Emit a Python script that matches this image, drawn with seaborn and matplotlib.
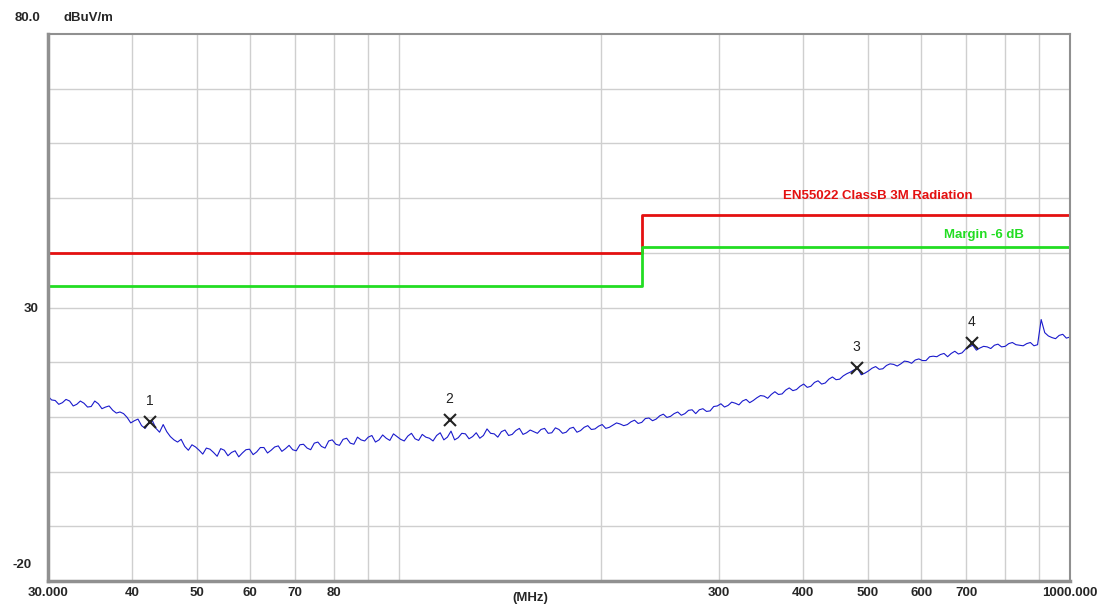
import matplotlib
matplotlib.use("Agg")
import matplotlib.pyplot as plt
import seaborn as sns
import numpy as np
import pandas as pd

# ---------------- data ----------------
# sweep points (main grid)
freq_mhz = [30.0, 30.75, 31.52, 32.31, 33.11, 33.94, 34.79, 35.66, 36.55, 37.47,
            38.40, 39.36, 40.35, 41.36, 42.39, 43.45, 44.54, 45.65, 46.79, 47.96,
            49.16, 50.39, 51.65, 52.94, 54.26, 55.62, 57.01, 58.44, 59.90, 61.39,
            62.93, 64.50, 66.11, 67.77, 69.46, 71.20, 72.98, 74.80, 76.67, 78.59,
            80.55, 82.57, 84.63, 86.75, 88.92, 91.14, 93.42, 95.75, 98.15, 100.60,
            103.12, 105.69, 108.34, 111.04, 113.82, 116.67, 119.58, 122.57, 125.64, 128.78,
            132.00, 135.30, 138.68, 142.15, 145.70, 149.34, 153.08, 156.90, 160.83, 164.85,
            168.97, 173.19, 177.52, 181.96, 186.51, 191.17, 195.95, 200.85, 205.87, 211.02,
            216.29, 221.70, 227.24, 232.92, 238.75, 244.71, 250.83, 257.10, 263.53, 270.12,
            276.87, 283.79, 290.89, 298.16, 305.61, 313.25, 321.09, 329.11, 337.34, 345.77,
            354.42, 363.28, 372.36, 381.67, 391.21, 400.99, 411.02, 421.29, 431.82, 442.62,
            453.68, 465.03, 476.65, 488.57, 500.78, 513.30, 526.14, 539.29, 552.77, 566.59,
            580.76, 595.28, 610.16, 625.41, 641.05, 657.07, 673.50, 690.34, 707.59, 725.28,
            743.42, 762.00, 781.05, 800.58, 820.59, 841.11, 862.13, 883.69, 905.78, 928.42,
            951.63, 975.42, 1000.0]
level_dbuv = [13.8, 13.0, 12.6, 12.9, 12.3, 12.5, 11.9, 12.4, 11.8, 11.2,
              10.9, 9.9, 9.3, 8.4, 8.9, 7.9, 8.6, 6.4, 5.4, 4.6,
              4.9, 3.9, 4.3, 3.5, 4.2, 2.9, 3.8, 3.4, 4.1, 3.6,
              4.4, 3.9, 4.7, 4.2, 4.0, 4.9, 4.3, 5.2, 4.6, 5.6,
              5.0, 5.9, 5.2, 6.3, 5.6, 6.6, 5.8, 6.1, 6.9, 5.9,
              6.5, 6.0, 6.8, 6.1, 6.6, 5.8, 7.4, 6.2, 6.9, 6.4,
              6.1, 7.8, 6.9, 7.3, 6.6, 7.5, 6.8, 7.6, 7.0, 7.9,
              7.1, 7.7, 7.2, 8.1, 7.5, 8.4, 7.8, 8.6, 8.1, 8.9,
              8.4, 9.1, 8.8, 9.7, 9.3, 10.2, 9.9, 10.6, 10.3, 11.2,
              10.6, 11.5, 11.1, 12.0, 11.8, 12.7, 12.2, 13.2, 13.0, 13.9,
              13.4, 14.6, 14.2, 15.3, 15.0, 16.0, 15.6, 16.6, 16.2, 17.3,
              16.9, 17.9, 18.6, 17.7, 18.4, 19.2, 18.8, 19.7, 19.3, 20.2,
              19.8, 20.6, 20.3, 21.1, 21.4, 21.0, 22.0, 21.7, 22.8, 22.2,
              22.9, 22.5, 23.3, 22.9, 23.6, 23.1, 23.4, 23.0, 27.8, 24.8,
              24.3, 25.1, 24.6]

# sweep points (intermediate grid)
freq_mid_mhz = [30.37, 31.13, 31.91, 32.71, 33.52, 34.36, 35.22, 36.10, 37.00, 37.93,
                38.88, 39.85, 40.85, 41.87, 42.92, 43.99, 45.09, 46.22, 47.37, 48.56,
                49.77, 51.02, 52.29, 53.60, 54.94, 56.31, 57.72, 59.17, 60.64, 62.16,
                63.71, 65.30, 66.93, 68.61, 70.32, 72.08, 73.88, 75.73, 77.62, 79.56,
                81.55, 83.59, 85.68, 87.82, 90.02, 92.27, 94.58, 96.94, 99.37, 101.85,
                104.40, 107.01, 109.68, 112.42, 115.23, 118.11, 121.06, 124.09, 127.20, 130.38,
                133.64, 136.98, 140.40, 143.91, 147.51, 151.20, 154.98, 158.86, 162.83, 166.90,
                171.07, 175.35, 179.73, 184.22, 188.83, 193.55, 198.39, 203.35, 208.43, 213.64,
                218.98, 224.46, 230.07, 235.82, 241.71, 247.76, 253.95, 260.30, 266.81, 273.48,
                280.31, 287.32, 294.51, 301.87, 309.42, 317.15, 325.08, 333.21, 341.54, 350.08,
                358.83, 367.80, 377.00, 386.42, 396.08, 406.00, 416.14, 426.54, 437.21, 448.14,
                459.34, 470.82, 482.59, 494.65, 507.02, 519.70, 532.69, 546.01, 559.66, 573.65,
                587.99, 602.69, 617.76, 633.20, 649.03, 665.26, 681.89, 698.94, 716.41, 734.32,
                752.68, 771.50, 790.78, 810.55, 830.81, 851.57, 872.86, 894.69, 917.05, 939.98,
                963.50, 987.57]
level_mid_dbuv = [13.1, 12.3, 13.2, 12.0, 12.9, 11.8, 12.9, 11.5, 12.0, 10.7,
                  10.6, 8.9, 9.6, 7.9, 9.3, 7.2, 7.3, 5.8, 5.9, 3.9,
                  4.5, 3.2, 4.1, 2.8, 3.9, 3.5, 2.7, 4.0, 3.1, 4.4,
                  3.4, 4.5, 3.7, 4.8, 3.8, 5.0, 4.0, 5.4, 4.3, 5.8,
                  4.8, 6.1, 5.0, 5.8, 6.3, 5.4, 6.7, 5.7, 6.4, 5.6,
                  7.0, 5.7, 6.3, 5.6, 7.1, 6.3, 5.8, 7.0, 6.0, 7.1,
                  6.6, 7.0, 6.3, 7.6, 6.8, 7.9, 7.1, 7.3, 7.7, 7.0,
                  8.0, 7.0, 7.9, 7.2, 8.1, 7.7, 8.3, 7.9, 8.5, 8.7,
                  8.6, 9.4, 9.0, 9.8, 9.6, 10.5, 10.1, 10.9, 10.6, 11.3,
                  11.3, 11.0, 11.9, 12.4, 12.1, 12.5, 12.9, 12.6, 13.5, 13.8,
                  14.1, 14.1, 14.9, 14.8, 15.6, 15.4, 16.3, 16.0, 16.9, 16.8,
                  17.5, 18.2, 18.9, 18.0, 18.9, 18.7, 19.4, 19.6, 19.7, 20.1,
                  20.4, 20.3, 21.0, 21.0, 21.6, 21.6, 21.5, 22.4, 23.1, 22.6,
                  22.8, 23.1, 22.8, 23.4, 23.2, 23.0, 23.6, 23.2, 25.4, 24.5,
                  24.9, 24.4]

limit_freq = [30, 230, 230, 1000]
limit_level = [40, 40, 47, 47]
margin_level = [34, 34, 41, 41]

marker_ids = ["1", "2", "3", "4"]
marker_freq = [42.6, 119.0, 481.0, 714.0]
marker_level = [9.1, 9.4, 19.0, 23.5]

xtick_vals = [30, 40, 50, 60, 70, 80, 300, 400, 500, 600, 700, 1000]
xtick_text = ["30.000", "40", "50", "60", "70", "80", "300", "400", "500", "600", "700", "1000.000"]
xgrid_vals = [40, 50, 60, 70, 80, 90, 100, 200, 300, 400, 500, 600, 700, 800, 900]

limit_name = "EN55022 ClassB 3M Radiation"
margin_name = "Margin -6 dB"
unit_text = "dBuV/m"
xunit_text = "(MHz)"

# ---------------- plot ----------------
sns.set_theme(style="white")
plt.rcParams['font.family'] = ['Liberation Sans', 'DejaVu Sans']

fig = plt.figure(figsize=(11.08, 6.08), dpi=100)
ax = fig.add_axes([48/1108, 1-581/608, 1022/1108, 547/608])

trace = pd.concat([
    pd.DataFrame({"f": freq_mhz, "lvl": level_dbuv}),
    pd.DataFrame({"f": freq_mid_mhz, "lvl": level_mid_dbuv}),
]).sort_values("f").reset_index(drop=True)
lim = pd.DataFrame({"f": limit_freq, "lim": limit_level, "mar": margin_level})

ax.set_xscale("log")
ax.set_xlim(30, 1000)
ax.set_ylim(-20, 80)

# grid
for gx in xgrid_vals:
    ax.axvline(gx, color="#cfcfcf", lw=1.0, zorder=0)
for gy in range(-10, 80, 10):
    ax.axhline(gy, color="#cfcfcf", lw=1.0, zorder=0)

sns.lineplot(data=lim, x="f", y="lim", sort=False, estimator=None, color="#e41010", lw=2.0, ax=ax)
sns.lineplot(data=lim, x="f", y="mar", sort=False, estimator=None, color="#22dd22", lw=2.0, ax=ax)
sns.lineplot(data=trace, x="f", y="lvl", sort=False, estimator=None, color="#1a1acc", lw=0.8, ax=ax)

for mid, mf, ml in zip(marker_ids, marker_freq, marker_level):
    ax.plot([mf], [ml], marker="x", color="#222222", ms=8, mew=1.5, ls="none")
    ax.annotate(mid, (mf, ml), xytext=(0, 10), textcoords="offset points",
                ha="center", va="bottom", fontsize=10, color="#222222")

ax.text(0.812, 0.703, limit_name, transform=ax.transAxes, color="#e41010",
        fontsize=9.5, fontweight="bold", ha="center", va="center")
ax.text(0.916, 0.632, margin_name, transform=ax.transAxes, color="#22dd22",
        fontsize=9.5, fontweight="bold", ha="center", va="center")

# axis ticks / labels
ax.set_xticks(xtick_vals)
ax.set_xticklabels(xtick_text, fontsize=9.5, fontweight="bold")
ax.xaxis.set_minor_locator(matplotlib.ticker.NullLocator())
ax.tick_params(axis="x", length=0, pad=4)
ax.set_yticks([30])
ax.set_yticklabels(["30"], fontsize=9.5, fontweight="bold")
ax.tick_params(axis="y", length=0, pad=7)
ax.set_xlabel("")
ax.set_ylabel("")

ax.text(-0.025, 0.03, "-20", transform=ax.transAxes, fontsize=9.5, fontweight="bold",
        ha="center", va="center")
ax.text(-0.02, 1.03, "80.0", transform=ax.transAxes, fontsize=9.5, fontweight="bold",
        ha="center", va="center")
ax.text(0.04, 1.03, unit_text, transform=ax.transAxes, fontsize=9.5, fontweight="bold",
        ha="center", va="center")
ax.text(0.472, -0.02, xunit_text, transform=ax.transAxes, fontsize=9.5, fontweight="bold",
        ha="center", va="top")

for s in ax.spines.values():
    s.set_color("#909090")
    s.set_linewidth(1.5)
ax.spines["left"].set_linewidth(2.5)
ax.spines["bottom"].set_linewidth(2.5)

fig.savefig("out.png", dpi=100)
